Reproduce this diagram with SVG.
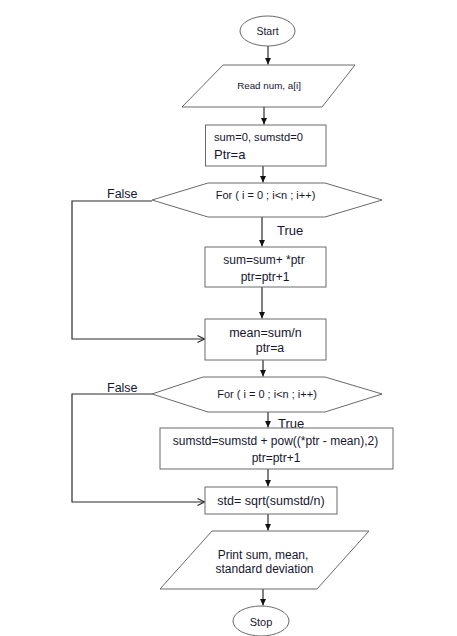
<svg xmlns="http://www.w3.org/2000/svg" width="457" height="636" viewBox="0 0 457 636">
<defs>
<style>
.s{fill:#fff;stroke:#6a6a6a;stroke-width:1}
.t{font-family:"Liberation Sans",Arial,sans-serif;fill:#161630;text-anchor:middle}
.l{font-family:"Liberation Sans",Arial,sans-serif;fill:#161630}
.c{fill:none;stroke:#2a2a2a;stroke-width:1.2}
</style>
<marker id="ah" markerWidth="8" markerHeight="8" refX="7" refY="4" orient="auto" markerUnits="userSpaceOnUse">
<path d="M0,0.8 L7,4 L0,7.2 Z" fill="#111"/>
</marker>
<marker id="oh" markerWidth="10" markerHeight="10" refX="8" refY="5" orient="auto" markerUnits="userSpaceOnUse">
<path d="M1,1.5 L8,5 L1,8.5" fill="none" stroke="#2a2a2a" stroke-width="1.2"/>
</marker>
</defs>
<rect width="457" height="636" fill="#fff"/>
<g id="connectors">
<line class="c" x1="268" y1="46" x2="268" y2="64.5" marker-end="url(#ah)"/>
<line class="c" x1="264" y1="107" x2="264" y2="124.5" marker-end="url(#ah)"/>
<line class="c" x1="263" y1="166" x2="263" y2="182.5" marker-end="url(#ah)"/>
<line class="c" x1="262" y1="217" x2="262" y2="246.5" marker-end="url(#ah)"/>
<line class="c" x1="262" y1="287" x2="262" y2="318.5" marker-end="url(#ah)"/>
<polyline class="c" points="152,201 72,201 72,339 204.5,339" marker-end="url(#oh)"/>
<line class="c" x1="263" y1="360" x2="263" y2="376.5" marker-end="url(#ah)"/>
<line class="c" x1="268" y1="409" x2="268" y2="427.5" marker-end="url(#ah)"/>
<line class="c" x1="268" y1="469" x2="268" y2="486.5" marker-end="url(#ah)"/>
<polyline class="c" points="152,394 72,394 72,502 204.5,502" marker-end="url(#oh)"/>
<line class="c" x1="268" y1="514" x2="268" y2="530.5" marker-end="url(#ah)"/>
<line class="c" x1="263" y1="589" x2="263" y2="605.5" marker-end="url(#ah)"/>
<text class="l" x="107" y="198" font-size="12.5">False</text>
<text class="l" x="277" y="235" font-size="13">True</text>
<text class="l" x="107" y="392" font-size="12.5">False</text>
<text class="l" x="278" y="428" font-size="13">True</text>
</g>
<g id="start">
<ellipse class="s" cx="267.5" cy="31" rx="27.5" ry="15"/>
<text class="t" x="267.5" y="35" font-size="10.5">Start</text>
</g>
<g id="read">
<polygon class="s" points="223,65 355,65 322,107 182,107"/>
<text class="t" x="269" y="88.5" font-size="9.8">Read num, a[i]</text>
</g>
<g id="init">
<rect class="s" x="205.5" y="125" width="120.5" height="41"/>
<text class="l" x="214" y="141" font-size="11.2">sum=0, sumstd=0</text>
<text class="l" x="214" y="159" font-size="13">Ptr=a</text>
</g>
<g id="loop1">
<polygon class="s" points="152,200 208,183 325,183 382,200 325,217 208,217"/>
<text class="t" x="265.5" y="199" font-size="11">For ( i = 0 ; i&lt;n ; i++)</text>
</g>
<g id="sumstep">
<rect class="s" x="205" y="247" width="121" height="40"/>
<text class="t" x="264" y="264" font-size="12">sum=sum+ *ptr</text>
<text class="t" x="265" y="281" font-size="12">ptr=ptr+1</text>
</g>
<g id="mean">
<rect class="s" x="205" y="319" width="121" height="41"/>
<text class="t" x="265.5" y="337" font-size="12.5">mean=sum/n</text>
<text class="t" x="270" y="352" font-size="12.3">ptr=a</text>
</g>
<g id="loop2">
<polygon class="s" points="152,394 203,377 325,377 382,394 325,412 208,412"/>
<text class="t" x="267" y="398" font-size="11">For ( i = 0 ; i&lt;n ; i++)</text>
</g>
<g id="sumstdstep">
<rect class="s" x="160" y="428" width="233" height="41"/>
<text class="t" x="275.5" y="445" font-size="12">sumstd=sumstd + pow((*ptr - mean),2)</text>
<text class="t" x="276" y="462" font-size="12">ptr=ptr+1</text>
</g>
<g id="std">
<rect class="s" x="205" y="487" width="132" height="27"/>
<text class="t" x="271" y="505" font-size="12.5">std= sqrt(sumstd/n)</text>
</g>
<g id="print">
<polygon class="s" points="212,531 369,531 317,589 160,589"/>
<text class="t" x="263" y="559" font-size="12">Print sum, mean,</text>
<text class="t" x="264.5" y="573" font-size="12">standard deviation</text>
</g>
<g id="stop">
<ellipse class="s" cx="261" cy="621" rx="28" ry="15"/>
<text class="t" x="261" y="626" font-size="11">Stop</text>
</g>
</svg>
